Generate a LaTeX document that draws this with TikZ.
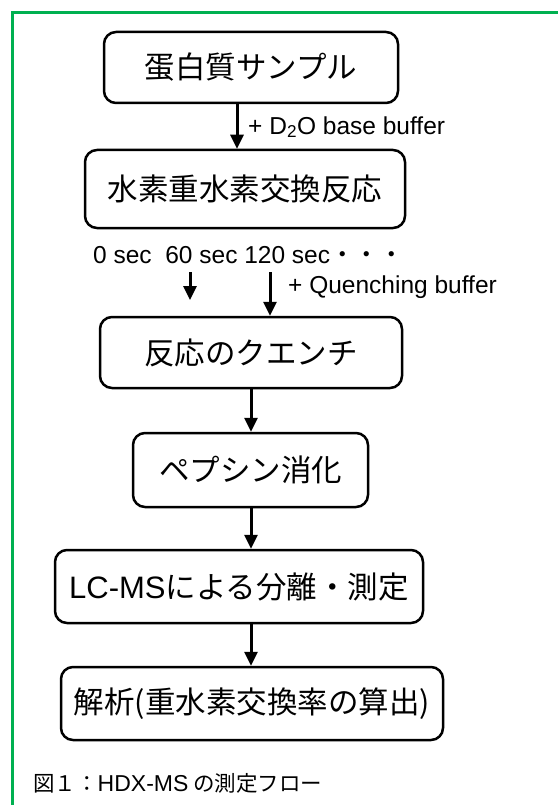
\documentclass[tikz,border=0pt]{standalone}
\usepackage{fontspec}
\setmainfont{Liberation Sans}
\newfontfamily\cjk{Noto Sans CJK JP}
\usetikzlibrary{arrows.meta}
\definecolor{framegreen}{HTML}{00B050}
\begin{document}
\begin{tikzpicture}[x=1pt,y=-1pt,
  box/.style={draw,line width=2.5pt,rounded corners=12pt,inner sep=0pt,font=\cjk\fontsize{30.5}{36}\selectfont},
  arr/.style={line width=3pt,-{Triangle[width=13pt,length=14pt]}},
  lbl/.style={font=\fontsize{24.5}{28}\selectfont,inner sep=0pt}]
\useasboundingbox (0,0) rectangle (557,805);
\draw[framegreen,line width=3pt] (12,812) -- (12,13) -- (562,13);

\node[box,minimum width=294pt,minimum height=71pt] (b1) at (251,67.5) {蛋白質サンプル};
\node[box,minimum width=320pt,minimum height=78pt] (b2) at (245,189) {水素重水素交換反応};
\node[box,minimum width=302pt,minimum height=71pt] (b3) at (251,352.5) {反応のクエンチ};
\node[box,minimum width=235pt,minimum height=74pt] (b4) at (250.5,470) {ペプシン消化};
\node[box,minimum width=368pt,minimum height=73pt] (b5) at (239,586.5) {{\rmfamily\fontsize{31}{36}\selectfont LC-MS}による分離・測定};
\node[box,minimum width=382pt,minimum height=73pt] (b6) at (252,703.5) {解析(重水素交換率の算出)};

\coordinate (a1) at (237,0);
\coordinate (c) at (251,0);
\draw[arr] (b1.south -| a1) -- (b2.north -| a1);
\node[lbl,anchor=west] (d2o) at (248,127) {+ D\textsubscript{2}O base buffer};

\node[lbl,anchor=west] (times) at (93,255) {0 sec\ \ 60 sec 120 sec{\cjk ・・・}};
\coordinate (s1) at (190,272);
\coordinate (s1e) at (190,300);
\coordinate (q) at (270,272);
\draw[arr] (s1) -- (s1e);
\draw[arr] (q) -- (b3.north -| q);
\node[lbl,anchor=west] (quench) at (288,287) {+ Quenching buffer};

\draw[arr] (b3.south -| c) -- (b4.north -| c);
\draw[arr] (b4.south -| c) -- (b5.north -| c);
\draw[arr] (b5.south -| c) -- (b6.north -| c);

\node[anchor=west,inner sep=0pt,font=\cjk\fontsize{21.5}{25}\selectfont] (cap) at (33,783) {図１：{\rmfamily\fontsize{23}{25}\selectfont HDX-MS} の測定フロー};
\end{tikzpicture}
\end{document}
